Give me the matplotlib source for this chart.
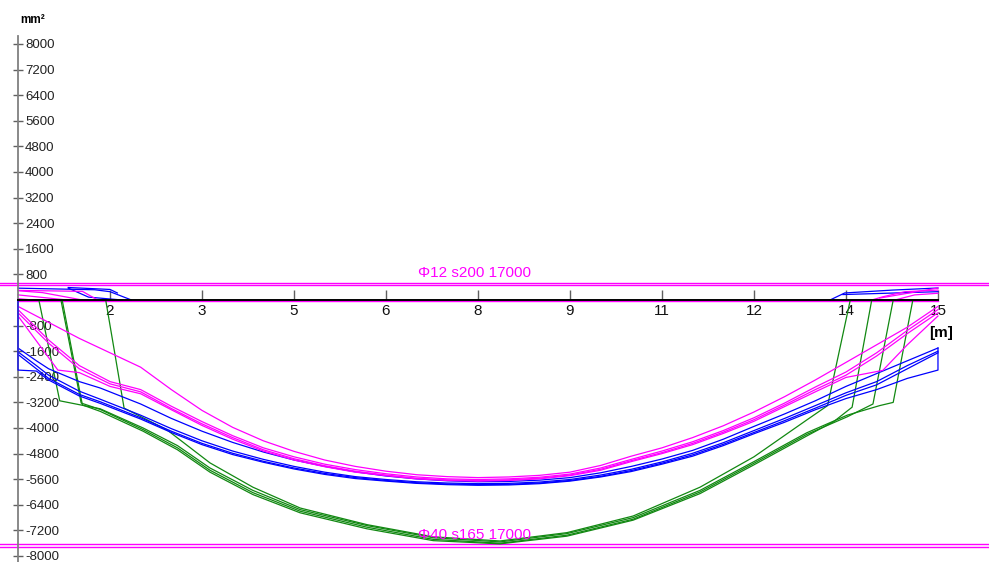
import matplotlib
matplotlib.use('Agg')
import matplotlib.pyplot as plt

plt.rcParams['font.family'] = ['Liberation Sans', 'DejaVu Sans']

# --- axis ticks / labels ---
y_tick_vals = [8000, 7200, 6400, 5600, 4800, 4000, 3200, 2400, 1600, 800,
               -800, -1600, -2400, -3200, -4000, -4800, -5600, -6400, -7200, -8000]
y_tick_labels = ['8000', '7200', '6400', '5600', '4800', '4000', '3200', '2400', '1600', '800',
                 '-800', '-1600', '-2400', '-3200', '-4000', '-4800', '-5600', '-6400', '-7200', '-8000']
x_tick_pos = [1.5, 3.0, 4.5, 6.0, 7.5, 9.0, 10.5, 12.0, 13.5, 15.0]
x_tick_labels = ['2', '3', '5', '6', '8', '9', '11', '12', '14', '15']

# --- provided reinforcement (double lines) ---
top_bar_levels = [540, 460]
bot_bar_levels = [-7640, -7730]
top_bar_text = 'Φ12 s200 17000'
bot_bar_text = 'Φ40 s165 17000'

# --- magenta (required, bottom) ---
mx = [0, 0.5, 1, 1.5, 2, 2.5, 3, 3.5, 4, 4.5, 5, 5.5, 6, 6.5, 7, 7.5, 8, 8.5, 9, 9.5,
      10, 10.5, 11, 11.5, 12, 12.5, 13, 13.5, 14, 14.5, 15]
m1 = [-200, -700, -1200, -1650, -2100, -2800, -3450, -3980, -4400, -4730, -5000, -5200,
      -5350, -5460, -5520, -5550, -5530, -5480, -5380, -5170, -4880, -4620, -4300, -3930,
      -3500, -3020, -2500, -1950, -1400, -850, -200]
m2 = [-300, -1250, -2050, -2550, -2800, -3320, -3800, -4240, -4620, -4900, -5130, -5300,
      -5430, -5530, -5590, -5610, -5590, -5540, -5440, -5250, -4980, -4720, -4430, -4080,
      -3680, -3220, -2720, -2250, -1650, -950, -300]
m3 = [-400, -1350, -2150, -2620, -2870, -3390, -3870, -4300, -4680, -4960, -5180, -5350,
      -5470, -5570, -5620, -5640, -5620, -5570, -5470, -5290, -5020, -4770, -4480, -4130,
      -3740, -3280, -2800, -2350, -1750, -1050, -400]
m4_x = [0, 0.65, 1.0, 1.5, 2, 2.5, 3, 3.5, 4, 4.5, 5, 5.5, 6, 6.5, 7, 7.5, 8, 8.5, 9, 9.5,
        10, 10.5, 11, 11.5, 12, 12.5, 13, 13.5, 14.1, 14.5, 15]
m4 = [-500, -2190, -2270, -2700, -2930, -3430, -3920, -4350, -4720, -5000, -5210, -5380,
      -5490, -5590, -5640, -5660, -5640, -5590, -5490, -5320, -5050, -4800, -4520, -4170,
      -3790, -3330, -2870, -2420, -2200, -1400, -500]

# --- blue ---
bx = [0, 0.3, 0.5, 1, 1.34, 2, 2.5, 3, 3.5, 4, 4.5, 5, 5.5, 6, 6.5, 7, 7.5, 8, 8.5, 9,
      9.5, 10, 10.5, 11, 11.5, 12, 12.5, 13, 13.5, 14, 14.5, 15]
b1 = [-1500, -1900, -2150, -2550, -2750, -3250, -3700, -4100, -4450, -4750, -5000, -5200,
      -5370, -5500, -5590, -5650, -5680, -5670, -5630, -5550, -5400, -5200, -4970, -4700,
      -4350, -3950, -3560, -3150, -2700, -2300, -1900, -1500]
b2 = [-1620, -2050, -2350, -2850, -3100, -3600, -4020, -4400, -4720, -4980, -5200, -5380,
      -5520, -5610, -5680, -5720, -5740, -5730, -5690, -5610, -5470, -5290, -5060, -4790,
      -4460, -4080, -3700, -3300, -2900, -2550, -2050, -1600]
b3 = [-1700, -2150, -2450, -2950, -3180, -3680, -4100, -4480, -4790, -5040, -5250, -5420,
      -5550, -5640, -5710, -5750, -5770, -5760, -5720, -5640, -5510, -5330, -5100, -4840,
      -4510, -4140, -3770, -3380, -2980, -2650, -2150, -1650]
b4_x = [0, 0, 0.3, 0.5, 1, 1.34, 2, 2.5, 3, 3.5, 4, 4.5, 5, 5.5, 6, 6.5, 7, 7.5, 8, 8.5,
        9, 9.5, 10, 10.5, 11, 11.5, 12, 12.5, 13, 13.5, 14, 14.5, 15, 15]
b4 = [0, -2190, -2220, -2500, -3000, -3230, -3720, -4140, -4520, -4830, -5070, -5280,
      -5450, -5580, -5660, -5730, -5770, -5790, -5780, -5740, -5660, -5530, -5360, -5130,
      -4880, -4550, -4180, -3820, -3430, -3080, -2800, -2450, -2190, -1500]

# --- green (shifted envelopes) ---
g1_x = [0, 0.34, 0.68, 1.34, 2.04, 2.6, 3.13, 3.83, 4.6, 5.69, 6.77, 7.86, 8.95, 10.03,
        11.12, 12.0, 12.86, 13.52, 14.05, 14.27, 14.59, 15]
g1 = [0, 0, -3150, -3400, -4000, -4550, -5250, -5950, -6550, -7050, -7430, -7560, -7300,
      -6800, -5950, -5050, -4150, -3600, -3300, -3200, 0, 0]
g2_x = [0, 0.70, 1.03, 1.34, 2.04, 2.6, 3.13, 3.83, 4.6, 5.69, 6.77, 7.86, 8.95, 10.03,
        11.12, 12.0, 12.86, 13.52, 13.94, 14.27, 15]
g2 = [0, 0, -3220, -3420, -4050, -4620, -5320, -6020, -6600, -7100, -7480, -7600, -7350,
      -6850, -6000, -5100, -4200, -3650, -3250, 0, 0]
g3_x = [0, 0.72, 1.05, 1.34, 2.04, 2.6, 3.13, 3.83, 4.6, 5.69, 6.77, 7.86, 8.95, 10.03,
        11.12, 12.0, 12.86, 13.3, 13.6, 13.92, 15]
g3 = [0, 0, -3280, -3480, -4100, -4680, -5380, -6080, -6650, -7150, -7520, -7620, -7380,
      -6880, -6050, -5150, -4250, -3800, -3350, 0, 0]
g4_x = [0, 1.43, 1.73, 2.43, 3.13, 3.83, 4.6, 5.69, 6.77, 7.86, 8.95, 10.03, 11.12, 12.0,
        12.86, 13.2, 13.57, 15]
g4 = [0, 0, -3380, -4060, -5090, -5850, -6500, -7020, -7400, -7530, -7270, -6750, -5850,
      -4900, -3750, -3300, 0, 0]

# --- small positive (top) diagrams ---
bt1_x, bt1 = [0, 1.25, 1.5, 1.85], [370, 320, 260, 0]
bt2_x, bt2 = [0.82, 1.5, 1.62], [390, 330, 220]
bt3_x, bt3 = [0.82, 1.15, 1.45, 1.7], [370, 90, 40, 0]
bt4_x, bt4 = [13.24, 13.48, 14.26, 15], [0, 220, 310, 375]
bt5_x, bt5 = [13.45, 15], [170, 260]
mt1_x, mt1 = [0, 0.4, 1.05], [290, 230, 0]
mt2_x, mt2 = [0, 0.8], [160, 0]
mt3_x, mt3 = [0, 0.25], [40, 0]
mt4_x, mt4 = [0, 1.05, 1.3], [300, 270, 0]
mt5_x, mt5 = [13.92, 14.1, 14.46, 15], [0, 100, 260, 310]
mt6_x, mt6 = [14.3, 14.62, 15], [0, 160, 210]
mt7_x, mt7 = [14.05, 15], [60, 375]

MAG = '#ff00ff'
BLUE = '#0000ff'
GREEN = '#118811'
LW = 0.9

fig = plt.figure(figsize=(9.89, 5.62), dpi=100)
ax = fig.add_axes([0, 0, 1, 1])
ax.set_xlim(-0.2935, 15.832)
ax.set_ylim(-8187.5, 9375)

# bar lines across the whole width
for lev in top_bar_levels + bot_bar_levels:
    ax.axhline(lev, color=MAG, linewidth=1.0)
ax.plot([0, 15], [-45, -45], color=MAG, linewidth=1.0)

for xs, ys in [(g1_x, g1), (g2_x, g2), (g3_x, g3), (g4_x, g4)]:
    ax.plot(xs, ys, color=GREEN, linewidth=LW)
for ys in [b1, b2, b3]:
    ax.plot(bx, ys, color=BLUE, linewidth=LW)
# this one carries the vertical end lines, keep it above the y spine
ax.plot(b4_x, b4, color=BLUE, linewidth=LW, zorder=3)
for ys in [m1, m2, m3]:
    ax.plot(mx, ys, color=MAG, linewidth=LW)
ax.plot(m4_x, m4, color=MAG, linewidth=LW)

for xs, ys in [(bt1_x, bt1), (bt2_x, bt2), (bt3_x, bt3), (bt4_x, bt4), (bt5_x, bt5)]:
    ax.plot(xs, ys, color=BLUE, linewidth=LW)
for xs, ys in [(mt1_x, mt1), (mt2_x, mt2), (mt3_x, mt3), (mt4_x, mt4),
               (mt5_x, mt5), (mt6_x, mt6), (mt7_x, mt7)]:
    ax.plot(xs, ys, color=MAG, linewidth=LW)

ax.text(7.45, 620, top_bar_text, color=MAG, fontsize=11, ha='center', va='bottom')
ax.text(7.45, -7570, bot_bar_text, color=MAG, fontsize=11, ha='center', va='bottom')

# axes
for s in ['top', 'right']:
    ax.spines[s].set_visible(False)
ax.spines['left'].set_position(('data', 0))
ax.spines['bottom'].set_position(('data', 0))
ax.spines['left'].set_bounds(-8200, 8250)
ax.spines['bottom'].set_bounds(0, 15)
ax.spines['left'].set_color('#808080')
ax.spines['left'].set_linewidth(1.3)
ax.spines['bottom'].set_color('black')
ax.spines['bottom'].set_linewidth(1.4)
ax.spines['bottom'].set_zorder(5)

ax.set_yticks(y_tick_vals, y_tick_labels)
ax.tick_params(axis='y', direction='inout', length=7, width=1, color='#606060',
               labelsize=9.5, pad=-8.5, labelcolor='#222222')
plt.setp(ax.get_yticklabels(), ha='left')

ax.set_xticks(x_tick_pos, x_tick_labels)
ax.tick_params(axis='x', direction='in', length=7, width=1, color='#606060',
               labelsize=11, pad=3, labelcolor='#111111')

ax.text(0.04, 8750, 'mm²', fontsize=8.5, fontweight='bold', ha='left', va='center')
ax.text(15.05, -1030, '[m]', fontsize=11, fontweight='bold', ha='center', va='center')

fig.savefig('out.png', dpi=100)
